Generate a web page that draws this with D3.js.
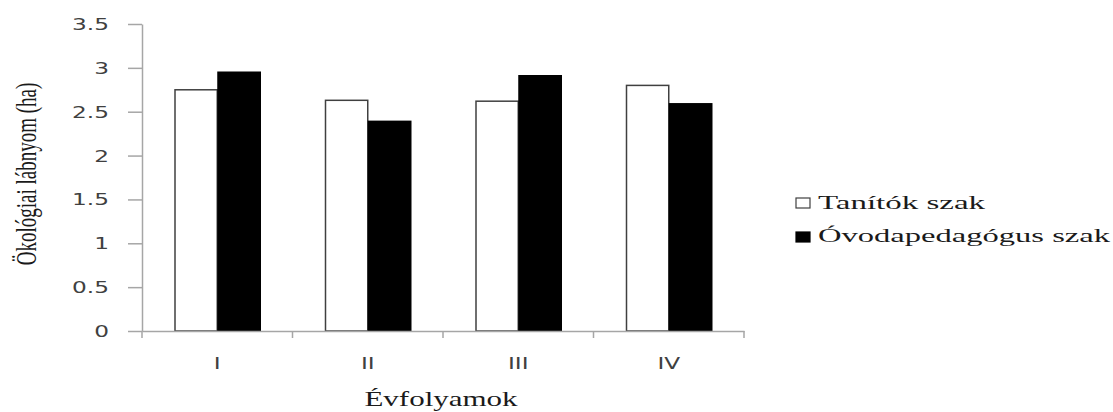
<!DOCTYPE html>
<html><head><meta charset="utf-8">
<script src="https://cdn.jsdelivr.net/npm/d3@7"></script>
<style>body{margin:0;background:#fff}svg{display:block}</style>
</head><body>
<svg id="c" width="1113" height="412"></svg>
<script>
const categories = ["I", "II", "III", "IV"];
const series = ["Tanítók szak", "Óvodapedagógus szak"];
const tanitok = [2.75, 2.63, 2.62, 2.80];
const ovoda = [2.95, 2.39, 2.91, 2.59];
const yTicks = [0, 0.5, 1, 1.5, 2, 2.5, 3, 3.5];
const yTickLabels = ["0", "0.5", "1", "1.5", "2", "2.5", "3", "3.5"];
const xTitle = "Évfolyamok";
const yTitle = "Ökológiai lábnyom (ha)";

const values = [tanitok, ovoda];
const fills = ["#ffffff", "#000000"];
const strokes = ["#404040", "#000000"];
const SX = 1.55; // horizontal stretch of the original image

const svg = d3.select("#c");
const x0 = d3.scaleBand().domain(categories).range([142, 744]).paddingInner(0).paddingOuter(0);
const x1 = d3.scaleBand().domain(series).range([0, x0.bandwidth()]).paddingInner(0).paddingOuter(0.75);
const y = d3.scaleLinear().domain([0, 3.5]).range([331, 24]);

// bars
series.forEach((s, si) => {
  svg.append("g").selectAll("rect").data(categories).join("rect")
    .attr("x", (c) => x0(c) + x1(s) + 0.75)
    .attr("width", x1.bandwidth() - 0.75)
    .attr("y", (c, i) => y(values[si][i]))
    .attr("height", (c, i) => y(0) - y(values[si][i]))
    .attr("fill", fills[si])
    .attr("stroke", strokes[si])
    .attr("stroke-width", 1.5);
});

// y axis
const yAxis = d3.axisLeft(y).tickValues(yTicks).tickFormat((d, i) => yTickLabels[i]).tickSize(14).tickSizeOuter(0);
const gy = svg.append("g").attr("transform", "translate(142,0)").call(yAxis);
gy.select(".domain").attr("stroke", "#a6a6a6").attr("stroke-width", 1.5);
gy.selectAll(".tick line").attr("stroke", "#a6a6a6").attr("stroke-width", 1.5);
gy.selectAll(".tick text")
  .attr("x", 0).attr("dy", null)
  .attr("transform", `translate(-33,5.5) scale(${SX},1)`)
  .attr("font-family", "DejaVu Sans, sans-serif").attr("font-size", 15)
  .attr("fill", "#404040");

// x axis
const xAxis = d3.axisBottom(x0).tickSize(0).tickSizeOuter(0);
const gx = svg.append("g").attr("transform", "translate(0,331)").call(xAxis);
gx.select(".domain").attr("stroke", "#a6a6a6").attr("stroke-width", 1.5);
gx.selectAll(".tick text")
  .attr("y", 0).attr("dy", null)
  .attr("transform", `translate(0,38) scale(${SX},1)`)
  .attr("font-family", "DejaVu Sans, sans-serif").attr("font-size", 15)
  .attr("fill", "#404040");
// boundary ticks between categories
const bounds = categories.map(c => x0(c)).concat([x0.range()[1]]);
svg.append("g").selectAll("line").data(bounds).join("line")
  .attr("x1", d => d).attr("x2", d => d)
  .attr("y1", 331).attr("y2", 338)
  .attr("stroke", "#a6a6a6").attr("stroke-width", 1.5);

// axis titles
svg.append("text").text(xTitle)
  .attr("transform", `translate(441,406) scale(${SX},1)`)
  .attr("text-anchor", "middle")
  .attr("font-family", "Liberation Serif, Times New Roman, serif").attr("font-size", 20)
  .attr("fill", "#1a1a1a");
svg.append("text").text(yTitle)
  .attr("transform", `translate(36,174) scale(${SX},1) rotate(-90)`)
  .attr("text-anchor", "middle")
  .attr("font-family", "Liberation Serif, Times New Roman, serif").attr("font-size", 19)
  .attr("fill", "#1a1a1a");

// legend
const leg = svg.append("g");
const legY = [198, 232];
const legBase = [209, 242];
const legLen = [167, 292];
series.forEach((s, i) => {
  leg.append("rect").attr("x", 796).attr("y", legY[i]).attr("width", 14).attr("height", 10)
    .attr("fill", fills[i]).attr("stroke", strokes[i]).attr("stroke-width", 1.2);
  leg.append("text").text(s)
    .attr("x", 818).attr("y", legBase[i])
    .attr("textLength", legLen[i]).attr("lengthAdjust", "spacingAndGlyphs")
    .attr("font-family", "Liberation Serif, Times New Roman, serif").attr("font-size", 18)
    .attr("fill", "#1a1a1a");
});
</script>
</body></html>
